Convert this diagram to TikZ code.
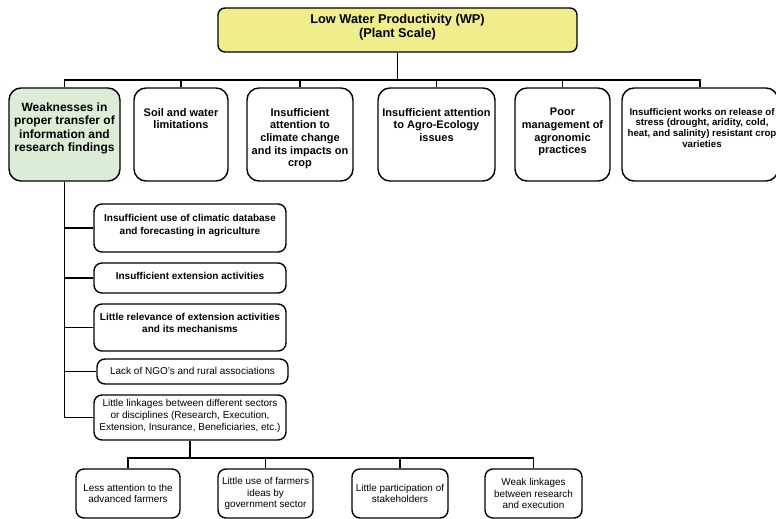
\documentclass[tikz,border=0pt]{standalone}
\usepackage{fontspec}
\setmainfont{Liberation Sans}
\definecolor{topfill}{RGB}{240,238,140}
\definecolor{greenfill}{RGB}{221,236,215}
\begin{document}
\begin{tikzpicture}[x=1pt,y=-1pt,
  bx/.style={draw=black, line width=1.4pt, inner sep=0pt, rounded corners=8pt},
  lv/.style={bx, rounded corners=12pt, minimum height=93pt},
  ch/.style={bx, minimum width=192pt},
  bt/.style={bx, minimum height=49pt, align=center, font=\fontsize{9.9}{11.6}\selectfont},
  conn/.style={line width=1.8pt},
  conn2/.style={line width=1.5pt},
  tl/.style={anchor=north, align=center, inner sep=0pt, font=\bfseries\fontsize{11}{12.7}\selectfont},
  ctb/.style={align=center, inner sep=0pt, font=\bfseries\fontsize{10}{12.3}\selectfont},
  ctr/.style={align=center, inner sep=0pt, font=\fontsize{10}{12}\selectfont},
]
\useasboundingbox (0,0) rectangle (776,519);

% top
\node[bx, fill=topfill, rounded corners=7pt, minimum width=359pt, minimum height=44pt] (top) at (397.5,30) {};
\node[align=center, inner sep=0pt, font=\bfseries\fontsize{12.8}{14}\selectfont] (ttop) at (397.5,27.5) {Low Water Productivity (WP)\\(Plant Scale)};

% level 2
\node[lv, fill=greenfill, minimum width=111pt] (b1) at (64.5,134.5) {};
\node[lv, minimum width=94pt] (b2) at (181,134.5) {};
\node[lv, minimum width=106pt] (b3) at (300,134.5) {};
\node[lv, minimum width=117pt] (b4) at (436.5,134.5) {};
\node[lv, minimum width=95pt] (b5) at (562.5,134.5) {};
\node[lv, minimum width=156pt] (b6) at (700,134.5) {};

\node[tl, font=\bfseries\fontsize{12}{13.5}\selectfont] (t1) at (64.5,102.5) {Weaknesses in\\proper transfer of\\information and\\research findings};
\node[tl] (t2) at (181,108) {Soil and water\\limitations};
\node[tl] (t3) at (300,108) {Insufficient\\attention to\\climate change\\and its impacts on\\crop};
\node[tl] (t4) at (436.5,108) {Insufficient attention\\to Agro-Ecology\\issues};
\node[tl] (t5) at (562.5,108) {Poor\\management of\\agronomic\\practices};
\node[tl, font=\bfseries\fontsize{9.7}{10.6}\selectfont] (t6) at (702,108) {Insufficient works on release of\\stress (drought, aridity, cold,\\heat, and salinity) resistant crop\\varieties};

\coordinate (bus) at (0,80);
\draw[conn] (top.south) -- (top.south |- bus);
\draw[conn] (b1.north) -- (b1.north |- bus) -- (b6.north |- bus) -- (b6.north);
\foreach \b in {b2,b3,b4,b5} \draw[conn] (\b.north) -- (\b.north |- bus);

% children of b1
\node[ch, minimum height=48pt] (ca) at (190,228) {};
\node[ctb] (tca) at (190,225.5) {Insufficient use of climatic database\\and forecasting in agriculture};
\node[ch, minimum height=30pt] (cb) at (190,278) {};
\node[ctb] (tcb) at (190,276) {Insufficient extension activities};
\node[ch, minimum height=47pt] (cc) at (190,327.5) {};
\node[ctb] (tcc) at (190,323) {Little relevance of extension activities\\and its mechanisms};
\node[ch, minimum width=191pt, minimum height=25pt] (cd) at (192.5,371.5) {};
\node[ctr] (tcd) at (192.5,370.5) {Lack of NGO's and rural associations};
\node[ch, minimum height=45pt] (ce) at (190,417.5) {};
\node[ctr] (tce) at (190,416) {Little linkages between different sectors\\or disciplines (Research, Execution,\\Extension, Insurance, Beneficiaries, etc.)};

\draw[conn] (b1.south) |- (ce.west);
\foreach \c in {ca,cb,cc,cd} \draw[conn] (b1.south |- \c.west) -- (\c.west);

% bottom level
\node[bt, minimum width=104pt] (d1) at (128,493.5) {Less attention to the\\advanced farmers};
\node[bt, minimum width=95pt] (d2) at (265.5,493.5) {Little use of farmers\\ideas by\\government sector};
\node[bt, minimum width=96pt] (d3) at (400,493.5) {Little participation of\\stakeholders};
\node[bt, minimum width=97pt] (d4) at (533.5,493.5) {Weak linkages\\between research\\and execution};

\coordinate (bus2) at (0,458);
\draw[conn2] (ce.south) -- (ce.south |- bus2);
\draw[conn2] (d1.north) -- (d1.north |- bus2) -- (d4.north |- bus2) -- (d4.north);
\foreach \d in {d2,d3} \draw[conn2] (\d.north) -- (\d.north |- bus2);
\end{tikzpicture}
\end{document}
